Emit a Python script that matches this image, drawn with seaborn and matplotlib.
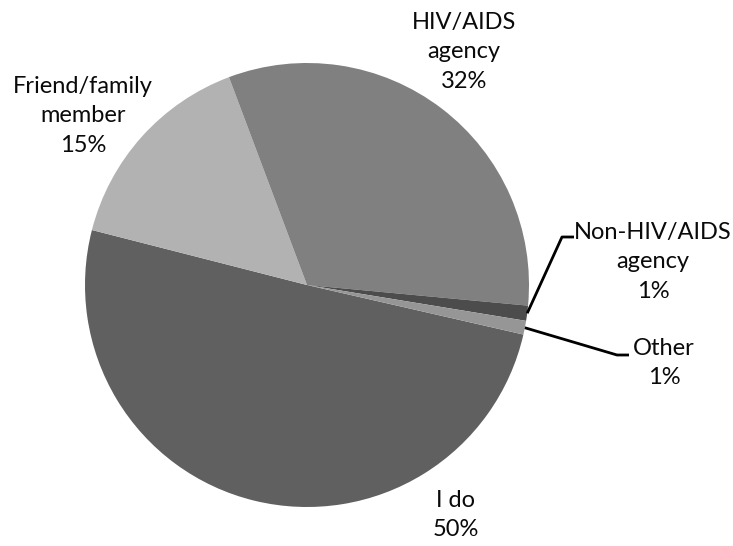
import matplotlib
matplotlib.use("Agg")
import matplotlib.pyplot as plt
import numpy as np
import pandas as pd
import seaborn as sns

# Who manages the respondent's HIV care (share of responses, %)
categories = ["I do", "Friend/family\nmember", "HIV/AIDS\nagency",
              "Non-HIV/AIDS\nagency", "Other"]
shares = [50.4, 15.3, 32.2, 1.1, 1.0]
pct_labels = ["50%", "15%", "32%", "1%", "1%"]
colors = ["#606060", "#b2b2b2", "#808080", "#4c4c4c", "#969696"]

df = pd.DataFrame({"category": categories, "share": shares,
                   "label": pct_labels})

sns.set_theme(style="white")
plt.rcParams["font.family"] = ["Lato", "DejaVu Sans"]

W, H = 733, 546
fig = plt.figure(figsize=(W / 100, H / 100), dpi=100)
ax = fig.add_axes([0, 0, 1, 1])

cx, cy, r = 307, H - 285, 222
wedges, _ = ax.pie(df["share"], colors=colors, startangle=-12.9,
                   counterclock=False, center=(cx, cy), radius=r,
                   wedgeprops=dict(linewidth=0), frame=True)
ax.set_xlim(0, W)
ax.set_ylim(0, H)
ax.set_aspect("equal")
ax.axis("off")

# label block centres (pixels from top-left)
label_pos = [(456, 515), (83, 116), (464, 52), (653, 262), (664, 363)]
for (txt, lab), (lx, ly) in zip(zip(df["category"], df["label"]), label_pos):
    ax.text(lx, H - ly, f"{txt}\n{lab}", ha="center", va="center",
            fontsize=17, color="#0a0a0a", linespacing=1.52)

# leader lines for the two thin slices
elbows = {3: [(562, 237), (574, 237)], 4: [(617, 355), (629, 355)]}
for i, pts in elbows.items():
    w = wedges[i]
    mid = np.deg2rad((w.theta1 + w.theta2) / 2)
    x0 = cx + r * np.cos(mid)
    y0 = cy + r * np.sin(mid)
    xs = [x0] + [p[0] for p in pts]
    ys = [y0] + [H - p[1] for p in pts]
    ax.plot(xs, ys, color="black", linewidth=2, solid_capstyle="butt")

fig.savefig("out.png", dpi=100, facecolor="white")
